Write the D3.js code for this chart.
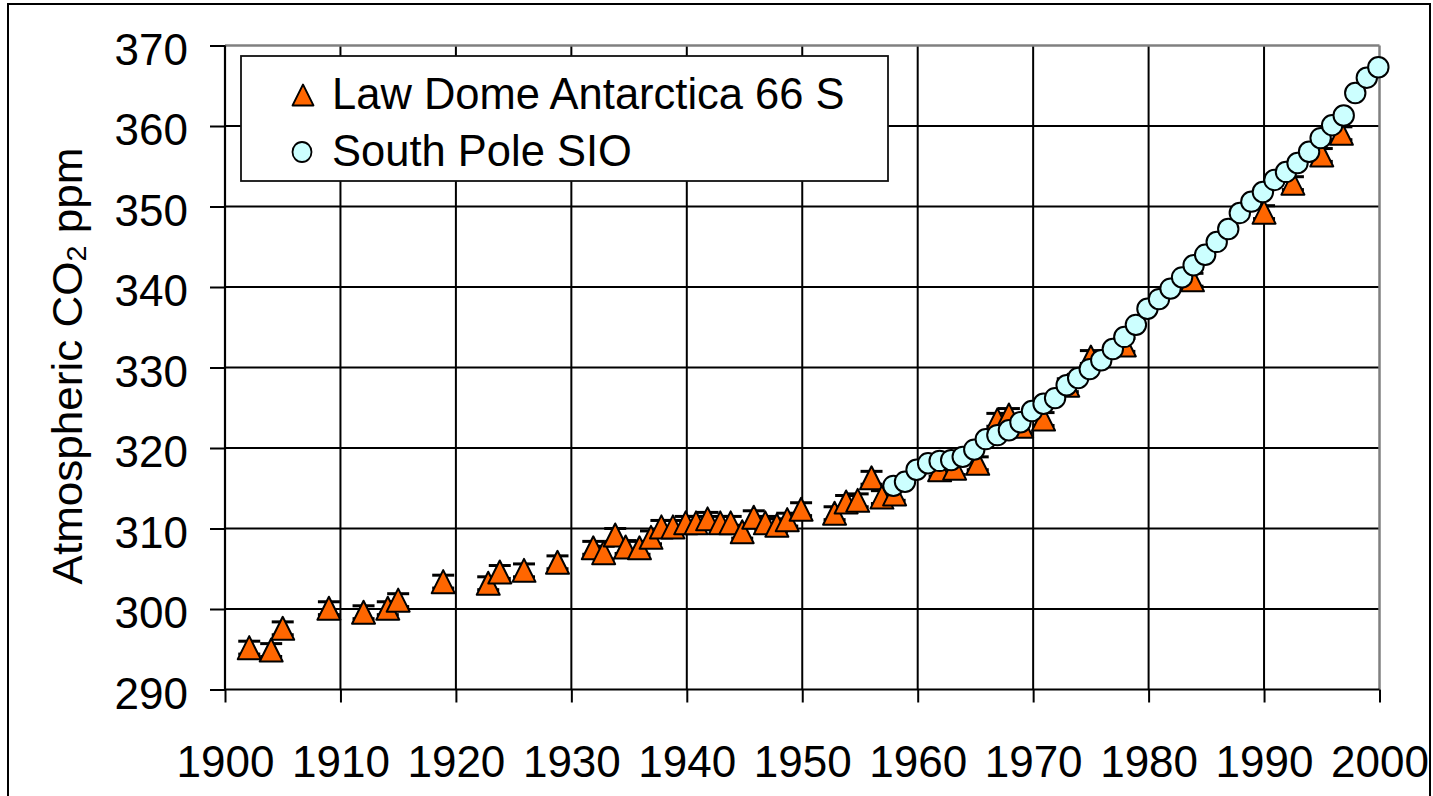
<!DOCTYPE html>
<html><head><meta charset="utf-8">
<script src="https://cdn.jsdelivr.net/npm/d3@7"></script>
<style>body{margin:0;background:#fff} text{font-family:"Liberation Sans",Arial,sans-serif;fill:#000}</style>
</head><body><svg id="c" width="1433" height="796"></svg>
<script>
// ---- data ----
const lawDomeYears=[1902.1,1904.0,1905.0,1909.0,1912.0,1914.1,1915.0,1918.9,1922.8,1923.8,1925.9,1928.8,1931.9,1932.8,1933.8,1934.7,1935.9,1936.9,1937.8,1938.8,1939.9,1940.8,1941.8,1942.9,1943.8,1944.8,1945.8,1946.8,1947.8,1948.7,1949.9,1952.8,1953.8,1954.8,1956.0,1956.9,1958.0,1961.9,1963.2,1965.2,1966.9,1967.9,1969.0,1970.9,1973.0,1975.0,1977.9,1983.8,1990.0,1992.5,1995.0,1996.7];
const lawDomeCO2=[295.2,294.9,297.6,300.1,299.6,300.1,301.1,303.4,303.2,304.6,304.8,305.8,307.6,307.0,309.2,307.7,307.6,308.9,310.2,310.2,310.7,310.7,311.2,310.7,310.7,309.6,311.4,310.7,310.4,311.1,312.4,311.9,313.3,313.5,316.3,313.9,314.3,317.3,317.5,318.1,323.5,324.1,322.7,323.6,327.8,331.3,332.8,340.9,349.3,352.9,356.4,359.1];
const lawDomeErr=0.8;
const southPoleYears=[1957.9,1958.9,1959.9,1960.9,1961.9,1962.9,1963.9,1964.9,1965.9,1966.9,1967.9,1968.9,1969.9,1970.9,1971.9,1972.9,1973.9,1974.9,1975.9,1976.9,1977.9,1978.9,1979.9,1980.9,1981.9,1982.9,1983.9,1984.9,1985.9,1986.9,1987.9,1988.9,1989.9,1990.9,1991.9,1992.9,1993.9,1994.9,1995.9,1996.9,1997.9,1998.9,1999.9];
const southPoleCO2=[315.3,315.8,317.3,318.1,318.4,318.5,318.9,319.8,321.1,321.6,322.2,323.2,324.6,325.5,326.2,327.8,328.7,329.8,330.9,332.3,333.8,335.3,337.3,338.5,339.8,341.2,342.7,344.0,345.6,347.2,349.2,350.6,351.8,353.3,354.3,355.4,356.8,358.5,360.1,361.3,364.1,366.0,367.3];
const xTicks=[1900,1910,1920,1930,1940,1950,1960,1970,1980,1990,2000];
const yTicks=[290,300,310,320,330,340,350,360,370];
const seriesNames=["Law Dome Antarctica 66 S","South Pole SIO"];

// ---- chart ----
const svg=d3.select("#c");
const L=225,R=1379.5,T=45.5,B=689.5;
const x=d3.scaleLinear().domain([1900,2000]).range([L,R]);
const y=d3.scaleLinear().domain([290,370]).range([B,T]);
const triFill="#FF6600", cirFill="#CCFFFF";
const tri=s=>`M0,${-s}L${s},${s}L${-s},${s}Z`;
const FF="Liberation Sans, Arial, sans-serif";

svg.append("rect").attr("x",8).attr("y",4).attr("width",1422).attr("height",800)
  .attr("fill","none").attr("stroke","#000").attr("stroke-width",2);

const g=svg.append("g");
g.selectAll(".vg").data(xTicks.slice(1,-1)).join("line")
  .attr("x1",d=>x(d)).attr("x2",d=>x(d)).attr("y1",T).attr("y2",B)
  .attr("stroke","#000").attr("stroke-width",2);
g.selectAll(".hg").data(yTicks.slice(1,-1)).join("line")
  .attr("y1",d=>y(d)).attr("y2",d=>y(d)).attr("x1",L).attr("x2",R)
  .attr("stroke","#000").attr("stroke-width",2);
g.append("line").attr("x1",L).attr("x2",R).attr("y1",T).attr("y2",T).attr("stroke","#808080").attr("stroke-width",2.5);
g.append("line").attr("x1",R).attr("x2",R).attr("y1",T).attr("y2",B).attr("stroke","#808080").attr("stroke-width",2.5);

const ya=svg.append("g").attr("transform",`translate(${L},0)`)
  .call(d3.axisLeft(y).tickValues(yTicks).tickSize(15).tickPadding(22).tickFormat(d3.format("d")));
ya.select(".domain").remove();
ya.selectAll(".tick line").attr("stroke","#000").attr("stroke-width",2);
ya.selectAll("text").attr("font-size",44).attr("dy","0.43em").attr("font-family",FF);
const xa=svg.append("g").attr("transform",`translate(0,${B})`)
  .call(d3.axisBottom(x).tickValues(xTicks).tickSize(13).tickFormat(d3.format("d")));
xa.select(".domain").remove();
xa.selectAll(".tick line").attr("stroke","#000").attr("stroke-width",2);
xa.selectAll("text").attr("font-size",44).attr("y",87.5).attr("dy",0).attr("font-family",FF);
svg.append("line").attr("x1",L).attr("x2",L).attr("y1",T).attr("y2",B).attr("stroke","#000").attr("stroke-width",2.2);
svg.append("line").attr("x1",L).attr("x2",R).attr("y1",B).attr("y2",B).attr("stroke","#000").attr("stroke-width",2.2);

// y title
const tt=svg.append("text").attr("font-size",43).attr("text-anchor","middle");
tt.append("tspan").text("Atmospheric CO");
tt.append("tspan").text("2").attr("font-size",28).attr("dy",4);
tt.append("tspan").text(" ppm").attr("dy",-4);
const tl=tt.node().getComputedTextLength();
tt.attr("transform",`translate(82,366) rotate(-90) scale(${437/tl},1)`);

// Law Dome
const ld=lawDomeYears.map((yr,i)=>({yr,v:lawDomeCO2[i]}));
const ldg=svg.append("g");
ldg.selectAll(".eb").data(ld).join("g").each(function(d){
  const s=d3.select(this);
  s.append("line").attr("x1",x(d.yr)).attr("x2",x(d.yr)).attr("y1",y(d.v+lawDomeErr)).attr("y2",y(d.v-lawDomeErr)).attr("stroke","#000").attr("stroke-width",2);
  [d.v+lawDomeErr,d.v-lawDomeErr].forEach(e=>s.append("line").attr("x1",x(d.yr)-11).attr("x2",x(d.yr)+11).attr("y1",y(e)).attr("y2",y(e)).attr("stroke","#000").attr("stroke-width",3));
});
ldg.selectAll(".tr").data(ld).join("path")
  .attr("d",tri(11.5)).attr("transform",d=>`translate(${x(d.yr)},${y(d.v)})`)
  .attr("fill",triFill).attr("stroke","#000").attr("stroke-width",2).attr("stroke-linejoin","round");

// South Pole
const sp=southPoleYears.map((yr,i)=>({yr,v:southPoleCO2[i]}));
svg.append("g").selectAll("circle").data(sp).join("circle")
  .attr("cx",d=>x(d.yr)).attr("cy",d=>y(d.v)).attr("r",10.2)
  .attr("fill",cirFill).attr("stroke","#000").attr("stroke-width",2);

// legend
const lg=svg.append("g");
lg.append("rect").attr("x",241).attr("y",56).attr("width",647).attr("height",125)
  .attr("fill","#fff").attr("stroke","#111").attr("stroke-width",1.8);
lg.append("path").attr("d",tri(10.5)).attr("transform","translate(303,95)")
  .attr("fill",triFill).attr("stroke","#000").attr("stroke-width",1.8).attr("stroke-linejoin","round");
lg.append("ellipse").attr("cx",302).attr("cy",152).attr("rx",9.5).attr("ry",10)
  .attr("fill",cirFill).attr("stroke","#000").attr("stroke-width",1.8);
lg.selectAll(".lt").data(seriesNames).join("text")
  .attr("x",332).attr("y",(d,i)=>109+i*57).attr("font-size",43.5).text(d=>d);
</script></body></html>
